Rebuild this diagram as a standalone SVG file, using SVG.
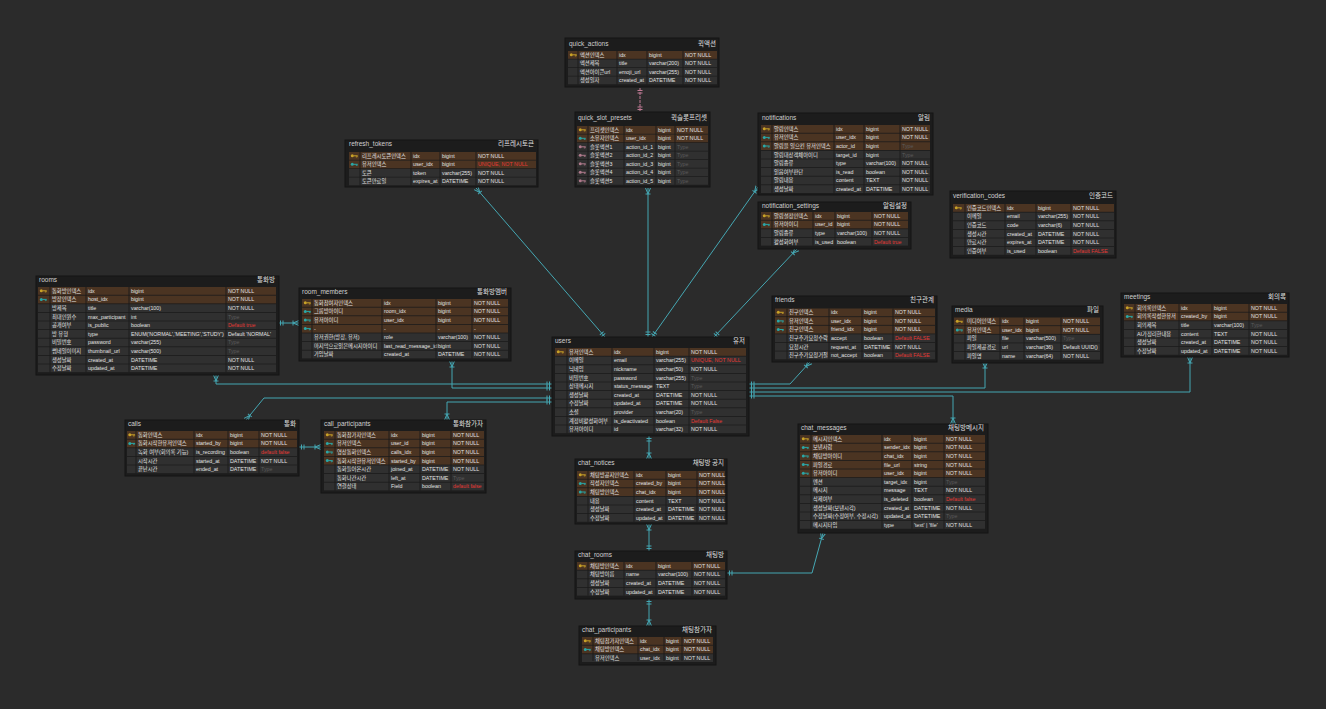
<svg xmlns="http://www.w3.org/2000/svg" xmlns:xlink="http://www.w3.org/1999/xlink" width="1326" height="709" viewBox="0 0 1326 709">
<style>
.tb{fill:#1c1c1c;stroke:#141414;stroke-width:1}
.hn{font-family:"Liberation Sans","Noto Sans CJK KR",sans-serif;font-size:6.5px;fill:#cfcfcf}
.hc{font-family:"Noto Sans CJK KR",sans-serif;font-size:6.5px;fill:#e0e0e0;text-anchor:end}
.k{fill:#4b3422}
.n{fill:#303030}
.s{stroke:#1c1c1c;stroke-width:0.9;fill:none}
.t text{font-family:"Liberation Sans","Noto Sans CJK KR",sans-serif;font-size:5.3px;fill:#e2e2e2}
.t text.g{fill:#5a5a5a}
.t text.r{fill:#e53935}
.ln{fill:none;stroke:#45a7b3;stroke-width:1;marker-start:url(#mo);marker-end:url(#mn)}
.pk{fill:none;stroke:#c07a95;stroke-width:1;stroke-dasharray:3 1;marker-start:url(#po);marker-end:url(#po)}
</style>
<defs>
<g id="kp"><circle cx="1.8" cy="2" r="1.5" fill="#c9a227"/><rect x="3" y="1.5" width="4.2" height="1" fill="#c9a227"/><rect x="5.4" y="2.4" width="0.8" height="1.3" fill="#c9a227"/><rect x="6.6" y="2.4" width="0.6" height="1" fill="#c9a227"/></g>
<g id="kf"><circle cx="1.8" cy="2" r="1.5" fill="#2aa7a7"/><rect x="3" y="1.5" width="4.2" height="1" fill="#2aa7a7"/><rect x="5.4" y="2.4" width="0.8" height="1.3" fill="#2aa7a7"/><rect x="6.6" y="2.4" width="0.6" height="1" fill="#2aa7a7"/></g>
<g id="kx"><circle cx="1.8" cy="2" r="1.5" fill="#b07a8c"/><rect x="3" y="1.5" width="4.2" height="1" fill="#b07a8c"/><rect x="5.4" y="2.4" width="0.8" height="1.3" fill="#b07a8c"/><rect x="6.6" y="2.4" width="0.6" height="1" fill="#b07a8c"/></g>
<marker id="mo" viewBox="0 0 10 10" refX="10" refY="5" markerWidth="10" markerHeight="10" orient="auto-start-reverse" markerUnits="userSpaceOnUse"><path d="M5,2.5V7.5M7.5,2.5V7.5" stroke="#45a7b3" stroke-width="1" fill="none"/></marker>
<marker id="mn" viewBox="0 0 10 10" refX="10" refY="5" markerWidth="10" markerHeight="10" orient="auto" markerUnits="userSpaceOnUse"><path d="M4,5L10,2.5M4,5L10,7.5M4,2.5V7.5" stroke="#45a7b3" stroke-width="1" fill="none"/></marker>
<marker id="po" viewBox="0 0 10 10" refX="10" refY="5" markerWidth="10" markerHeight="10" orient="auto-start-reverse" markerUnits="userSpaceOnUse"><path d="M5,2.5V7.5M7.5,2.5V7.5" stroke="#c07a95" stroke-width="1" fill="none"/></marker>
</defs>
<rect width="1326" height="709" fill="#2b2b2b"/>

<g id="connectors">
<path class="pk" d="M640,88V112"/>
<path class="ln" d="M605,337L476,188"/>
<path class="ln" d="M648,337V188"/>
<path class="ln" d="M652,337L758,187"/>
<path class="ln" d="M714,337L797,249"/>
<path class="ln" d="M749,384H790L810,362"/>
<path class="ln" d="M749,388H985V362"/>
<path class="ln" d="M749,392H1190V357"/>
<path class="ln" d="M749,396H953V424"/>
<path class="ln" d="M552,384H216V375"/>
<path class="ln" d="M552,388H452V361"/>
<path class="ln" d="M552,398H264L246,420"/>
<path class="ln" d="M552,402H447V420"/>
<path class="ln" d="M278,323H299"/>
<path class="ln" d="M299,447H321"/>
<path class="ln" d="M649,436V459"/>
<path class="ln" d="M649,551V524"/>
<path class="ln" d="M649,599V626"/>
<path class="ln" d="M727,573H812L823,533"/>
</g>

<g id="quick_actions">
<rect class="tb" x="565" y="38" width="154" height="49"/>
<text class="hn" x="569" y="46">quick_actions</text><text class="hc" x="716" y="46">퀵액션</text>
<g class="t">
<g transform="translate(0,51)"><rect class="k" x="568" width="149" height="7.8"/><use href="#kp" x="569.5" y="1.8"/><text x="580" y="5.8">액션인덱스</text><text x="619" y="5.8">idx</text><text x="649" y="5.8">bigint</text><text x="685" y="5.8">NOT NULL</text></g>
<g transform="translate(0,59.5)"><rect class="n" x="568" width="149" height="7.8"/><text x="580" y="5.8">액션제목</text><text x="619" y="5.8">title</text><text x="649" y="5.8">varchar(200)</text><text x="685" y="5.8">NOT NULL</text></g>
<g transform="translate(0,68)"><rect class="n" x="568" width="149" height="7.8"/><text x="580" y="5.8">액션아이콘url</text><text x="619" y="5.8">emoji_url</text><text x="649" y="5.8">varchar(255)</text><text x="685" y="5.8">NOT NULL</text></g>
<g transform="translate(0,76.5)"><rect class="n" x="568" width="149" height="7.8"/><text x="580" y="5.8">생성일자</text><text x="619" y="5.8">created_at</text><text x="649" y="5.8">DATETIME</text><text x="685" y="5.8">NOT NULL</text></g>
</g>
<path class="s" d="M578,51V84.3M617,51V84.3M647,51V84.3M683,51V84.3"/>
</g>

<g id="quick_slot_presets">
<rect class="tb" x="575" y="112" width="135" height="75"/>
<text class="hn" x="578" y="120">quick_slot_presets</text><text class="hc" x="707" y="120">퀵슬롯프리셋</text>
<g class="t">
<g transform="translate(0,126)"><rect class="k" x="577" width="131" height="7.8"/><use href="#kp" x="578.5" y="1.8"/><text x="590" y="5.8">프리셋인덱스</text><text x="626" y="5.8">idx</text><text x="658" y="5.8">bigint</text><text x="677" y="5.8">NOT NULL</text></g>
<g transform="translate(0,134.5)"><rect class="k" x="577" width="131" height="7.8"/><use href="#kf" x="578.5" y="1.8"/><text x="590" y="5.8">소유자인덱스</text><text x="626" y="5.8">user_idx</text><text x="658" y="5.8">bigint</text><text x="677" y="5.8">NOT NULL</text></g>
<g transform="translate(0,143)"><rect class="n" x="577" width="131" height="7.8"/><use href="#kx" x="578.5" y="1.8"/><text x="590" y="5.8">슬롯액션1</text><text x="626" y="5.8">action_id_1</text><text x="658" y="5.8">bigint</text><text class="g" x="677" y="5.8">Type</text></g>
<g transform="translate(0,151.5)"><rect class="n" x="577" width="131" height="7.8"/><use href="#kx" x="578.5" y="1.8"/><text x="590" y="5.8">슬롯액션2</text><text x="626" y="5.8">action_id_2</text><text x="658" y="5.8">bigint</text><text class="g" x="677" y="5.8">Type</text></g>
<g transform="translate(0,160)"><rect class="n" x="577" width="131" height="7.8"/><use href="#kx" x="578.5" y="1.8"/><text x="590" y="5.8">슬롯액션3</text><text x="626" y="5.8">action_id_3</text><text x="658" y="5.8">bigint</text><text class="g" x="677" y="5.8">Type</text></g>
<g transform="translate(0,168.5)"><rect class="n" x="577" width="131" height="7.8"/><use href="#kx" x="578.5" y="1.8"/><text x="590" y="5.8">슬롯액션4</text><text x="626" y="5.8">action_id_4</text><text x="658" y="5.8">bigint</text><text class="g" x="677" y="5.8">Type</text></g>
<g transform="translate(0,177)"><rect class="n" x="577" width="131" height="7.8"/><use href="#kx" x="578.5" y="1.8"/><text x="590" y="5.8">슬롯액션5</text><text x="626" y="5.8">action_id_5</text><text x="658" y="5.8">bigint</text><text class="g" x="677" y="5.8">Type</text></g>
</g>
<path class="s" d="M588,126V184.8M624,126V184.8M656,126V184.8M675,126V184.8"/>
</g>

<g id="refresh_tokens">
<rect class="tb" x="345" y="140" width="193" height="47"/>
<text class="hn" x="349" y="146">refresh_tokens</text><text class="hc" x="534" y="146">리프레시토큰</text>
<g class="t">
<g transform="translate(0,152)"><rect class="k" x="349" width="187" height="7.8"/><use href="#kp" x="350.5" y="1.8"/><text x="362" y="5.8">리프레시토큰인덱스</text><text x="413" y="5.8">idx</text><text x="442" y="5.8">bigint</text><text x="478" y="5.8">NOT NULL</text></g>
<g transform="translate(0,160.5)"><rect class="k" x="349" width="187" height="7.8"/><use href="#kf" x="350.5" y="1.8"/><text x="362" y="5.8">유저인덱스</text><text x="413" y="5.8">user_idx</text><text x="442" y="5.8">bigint</text><text class="r" x="478" y="5.8">UNIQUE, NOT NULL</text></g>
<g transform="translate(0,169)"><rect class="n" x="349" width="187" height="7.8"/><text x="362" y="5.8">토큰</text><text x="413" y="5.8">token</text><text x="442" y="5.8">varchar(255)</text><text x="478" y="5.8">NOT NULL</text></g>
<g transform="translate(0,177.5)"><rect class="n" x="349" width="187" height="7.8"/><text x="362" y="5.8">토큰만료일</text><text x="413" y="5.8">expires_at</text><text x="442" y="5.8">DATETIME</text><text x="478" y="5.8">NOT NULL</text></g>
</g>
<path class="s" d="M360,152V185.3M411,152V185.3M440,152V185.3M476,152V185.3"/>
</g>

<g id="notifications">
<rect class="tb" x="758" y="113" width="175" height="82"/>
<text class="hn" x="762" y="120">notifications</text><text class="hc" x="930" y="120">알림</text>
<g class="t">
<g transform="translate(0,125)"><rect class="k" x="761" width="169" height="7.8"/><use href="#kp" x="762.5" y="1.8"/><text x="774" y="5.8">알림인덱스</text><text x="836" y="5.8">idx</text><text x="866" y="5.8">bigint</text><text x="902" y="5.8">NOT NULL</text></g>
<g transform="translate(0,133.6)"><rect class="k" x="761" width="169" height="7.8"/><use href="#kf" x="762.5" y="1.8"/><text x="774" y="5.8">유저인덱스</text><text x="836" y="5.8">user_idx</text><text x="866" y="5.8">bigint</text><text x="902" y="5.8">NOT NULL</text></g>
<g transform="translate(0,142.2)"><rect class="k" x="761" width="169" height="7.8"/><use href="#kf" x="762.5" y="1.8"/><text x="774" y="5.8">알림을 일으킨 유저인덱스</text><text x="836" y="5.8">actor_id</text><text x="866" y="5.8">bigint</text><text class="g" x="902" y="5.8">Type</text></g>
<g transform="translate(0,150.8)"><rect class="n" x="761" width="169" height="7.8"/><text x="774" y="5.8">알림대상객체아이디</text><text x="836" y="5.8">target_id</text><text x="866" y="5.8">bigint</text><text class="g" x="902" y="5.8">Type</text></g>
<g transform="translate(0,159.4)"><rect class="n" x="761" width="169" height="7.8"/><text x="774" y="5.8">알림종류</text><text x="836" y="5.8">type</text><text x="866" y="5.8">varchar(100)</text><text x="902" y="5.8">NOT NULL</text></g>
<g transform="translate(0,168)"><rect class="n" x="761" width="169" height="7.8"/><text x="774" y="5.8">읽음여부판단</text><text x="836" y="5.8">is_read</text><text x="866" y="5.8">boolean</text><text x="902" y="5.8">NOT NULL</text></g>
<g transform="translate(0,176.6)"><rect class="n" x="761" width="169" height="7.8"/><text x="774" y="5.8">알림내용</text><text x="836" y="5.8">content</text><text x="866" y="5.8">TEXT</text><text x="902" y="5.8">NOT NULL</text></g>
<g transform="translate(0,185.2)"><rect class="n" x="761" width="169" height="7.8"/><text x="774" y="5.8">생성날짜</text><text x="836" y="5.8">created_at</text><text x="866" y="5.8">DATETIME</text><text x="902" y="5.8">NOT NULL</text></g>
</g>
<path class="s" d="M772,125V193M834,125V193M864,125V193M900,125V193"/>
</g>

<g id="notification_settings">
<rect class="tb" x="758" y="202" width="153" height="47"/>
<text class="hn" x="762" y="208">notification_settings</text><text class="hc" x="907" y="208">알림설정</text>
<g class="t">
<g transform="translate(0,212)"><rect class="k" x="761" width="147" height="7.8"/><use href="#kp" x="762.5" y="1.8"/><text x="774" y="5.8">알림설정인덱스</text><text x="815" y="5.8">idx</text><text x="837" y="5.8">bigint</text><text x="874" y="5.8">NOT NULL</text></g>
<g transform="translate(0,220.6)"><rect class="k" x="761" width="147" height="7.8"/><use href="#kf" x="762.5" y="1.8"/><text x="774" y="5.8">유저아이디</text><text x="815" y="5.8">user_id</text><text x="837" y="5.8">bigint</text><text x="874" y="5.8">NOT NULL</text></g>
<g transform="translate(0,229.2)"><rect class="n" x="761" width="147" height="7.8"/><text x="774" y="5.8">알림종류</text><text x="815" y="5.8">type</text><text x="837" y="5.8">varchar(100)</text><text x="874" y="5.8">NOT NULL</text></g>
<g transform="translate(0,237.8)"><rect class="n" x="761" width="147" height="7.8"/><text x="774" y="5.8">활성화여부</text><text x="815" y="5.8">is_used</text><text x="837" y="5.8">boolean</text><text class="r" x="874" y="5.8">Default true</text></g>
</g>
<path class="s" d="M772,212V245.6M813,212V245.6M835,212V245.6M872,212V245.6"/>
</g>

<g id="verification_codes">
<rect class="tb" x="950" y="191" width="166" height="67"/>
<text class="hn" x="953" y="198">verification_codes</text><text class="hc" x="1113" y="198">인증코드</text>
<g class="t">
<g transform="translate(0,204)"><rect class="k" x="953" width="161" height="7.8"/><use href="#kp" x="954.5" y="1.8"/><text x="967" y="5.8">인증코드인덱스</text><text x="1007" y="5.8">idx</text><text x="1038" y="5.8">bigint</text><text x="1073" y="5.8">NOT NULL</text></g>
<g transform="translate(0,212.6)"><rect class="n" x="953" width="161" height="7.8"/><text x="967" y="5.8">이메일</text><text x="1007" y="5.8">email</text><text x="1038" y="5.8">varchar(255)</text><text x="1073" y="5.8">NOT NULL</text></g>
<g transform="translate(0,221.2)"><rect class="n" x="953" width="161" height="7.8"/><text x="967" y="5.8">인증코드</text><text x="1007" y="5.8">code</text><text x="1038" y="5.8">varchar(6)</text><text x="1073" y="5.8">NOT NULL</text></g>
<g transform="translate(0,229.8)"><rect class="n" x="953" width="161" height="7.8"/><text x="967" y="5.8">생성시간</text><text x="1007" y="5.8">created_at</text><text x="1038" y="5.8">DATETIME</text><text x="1073" y="5.8">NOT NULL</text></g>
<g transform="translate(0,238.4)"><rect class="n" x="953" width="161" height="7.8"/><text x="967" y="5.8">만료시간</text><text x="1007" y="5.8">expires_at</text><text x="1038" y="5.8">DATETIME</text><text x="1073" y="5.8">NOT NULL</text></g>
<g transform="translate(0,247)"><rect class="n" x="953" width="161" height="7.8"/><text x="967" y="5.8">인증여부</text><text x="1007" y="5.8">is_used</text><text x="1038" y="5.8">boolean</text><text class="r" x="1073" y="5.8">Default FALSE</text></g>
</g>
<path class="s" d="M965,204V254.8M1005,204V254.8M1036,204V254.8M1071,204V254.8"/>
</g>

<g id="rooms">
<rect class="tb" x="36" y="276" width="243" height="99"/>
<text class="hn" x="39" y="282">rooms</text><text class="hc" x="275" y="282">통화방</text>
<g class="t">
<g transform="translate(0,287)"><rect class="k" x="38" width="238" height="7.8"/><use href="#kp" x="39.5" y="1.8"/><text x="52" y="5.8">통화방인덱스</text><text x="88" y="5.8">idx</text><text x="131" y="5.8">bigint</text><text x="228" y="5.8">NOT NULL</text></g>
<g transform="translate(0,295.6)"><rect class="k" x="38" width="238" height="7.8"/><use href="#kf" x="39.5" y="1.8"/><text x="52" y="5.8">방장인덱스</text><text x="88" y="5.8">host_idx</text><text x="131" y="5.8">bigint</text><text x="228" y="5.8">NOT NULL</text></g>
<g transform="translate(0,304.2)"><rect class="n" x="38" width="238" height="7.8"/><text x="52" y="5.8">방제목</text><text x="88" y="5.8">title</text><text x="131" y="5.8">varchar(100)</text><text x="228" y="5.8">NOT NULL</text></g>
<g transform="translate(0,312.8)"><rect class="n" x="38" width="238" height="7.8"/><text x="52" y="5.8">최대인원수</text><text x="88" y="5.8">max_participant</text><text x="131" y="5.8">int</text><text class="g" x="228" y="5.8">Type</text></g>
<g transform="translate(0,321.4)"><rect class="n" x="38" width="238" height="7.8"/><text x="52" y="5.8">공개여부</text><text x="88" y="5.8">is_public</text><text x="131" y="5.8">boolean</text><text class="r" x="228" y="5.8">Default true</text></g>
<g transform="translate(0,330)"><rect class="n" x="38" width="238" height="7.8"/><text x="52" y="5.8">방 유형</text><text x="88" y="5.8">type</text><text x="131" y="5.8">ENUM('NORMAL','MEETING','STUDY')</text><text x="228" y="5.8">Default 'NORMAL'</text></g>
<g transform="translate(0,338.6)"><rect class="n" x="38" width="238" height="7.8"/><text x="52" y="5.8">비밀번호</text><text x="88" y="5.8">password</text><text x="131" y="5.8">varchar(255)</text><text class="g" x="228" y="5.8">Type</text></g>
<g transform="translate(0,347.2)"><rect class="n" x="38" width="238" height="7.8"/><text x="52" y="5.8">썸네일이미지</text><text x="88" y="5.8">thumbnail_url</text><text x="131" y="5.8">varchar(500)</text><text class="g" x="228" y="5.8">Type</text></g>
<g transform="translate(0,355.8)"><rect class="n" x="38" width="238" height="7.8"/><text x="52" y="5.8">생성날짜</text><text x="88" y="5.8">created_at</text><text x="131" y="5.8">DATETIME</text><text x="228" y="5.8">NOT NULL</text></g>
<g transform="translate(0,364.4)"><rect class="n" x="38" width="238" height="7.8"/><text x="52" y="5.8">수정날짜</text><text x="88" y="5.8">updated_at</text><text x="131" y="5.8">DATETIME</text><text x="228" y="5.8">NOT NULL</text></g>
</g>
<path class="s" d="M50,287V372.2M86,287V372.2M129,287V372.2M226,287V372.2"/>
</g>

<g id="room_members">
<rect class="tb" x="299" y="288" width="212" height="73"/>
<text class="hn" x="302" y="294">room_members</text><text class="hc" x="507" y="294">통화방멤버</text>
<g class="t">
<g transform="translate(0,299)"><rect class="k" x="302" width="206" height="7.8"/><use href="#kp" x="303.5" y="1.8"/><text x="314" y="5.8">통화참여자인덱스</text><text x="384" y="5.8">idx</text><text x="438" y="5.8">bigint</text><text x="474" y="5.8">NOT NULL</text></g>
<g transform="translate(0,307.6)"><rect class="k" x="302" width="206" height="7.8"/><use href="#kf" x="303.5" y="1.8"/><text x="314" y="5.8">그룹방아이디</text><text x="384" y="5.8">room_idx</text><text x="438" y="5.8">bigint</text><text x="474" y="5.8">NOT NULL</text></g>
<g transform="translate(0,316.2)"><rect class="k" x="302" width="206" height="7.8"/><use href="#kf" x="303.5" y="1.8"/><text x="314" y="5.8">유저아이디</text><text x="384" y="5.8">user_idx</text><text x="438" y="5.8">bigint</text><text x="474" y="5.8">NOT NULL</text></g>
<g transform="translate(0,324.8)"><rect class="k" x="302" width="206" height="7.8"/><use href="#kf" x="303.5" y="1.8"/><text x="314" y="5.8">-</text><text x="384" y="5.8">-</text><text x="438" y="5.8">-</text><text x="474" y="5.8">-</text></g>
<g transform="translate(0,333.4)"><rect class="n" x="302" width="206" height="7.8"/><text x="314" y="5.8">유저권한(방장, 유저)</text><text x="384" y="5.8">role</text><text x="438" y="5.8">varchar(100)</text><text x="474" y="5.8">NOT NULL</text></g>
<g transform="translate(0,342)"><rect class="n" x="302" width="206" height="7.8"/><text x="314" y="5.8">마지막으로읽은메시지아이디</text><text x="384" y="5.8">last_read_message_id</text><text x="438" y="5.8">bigint</text><text x="474" y="5.8">NOT NULL</text></g>
<g transform="translate(0,350.6)"><rect class="n" x="302" width="206" height="7.8"/><text x="314" y="5.8">가입날짜</text><text x="384" y="5.8">created_at</text><text x="438" y="5.8">DATETIME</text><text x="474" y="5.8">NOT NULL</text></g>
</g>
<path class="s" d="M312,299V358.4M382,299V358.4M436,299V358.4M472,299V358.4"/>
</g>

<g id="users">
<rect class="tb" x="552" y="337" width="197" height="99"/>
<text class="hn" x="555" y="343">users</text><text class="hc" x="745" y="343">유저</text>
<g class="t">
<g transform="translate(0,348)"><rect class="k" x="555" width="191" height="7.8"/><use href="#kp" x="556.5" y="1.8"/><text x="569" y="5.8">유저인덱스</text><text x="614" y="5.8">idx</text><text x="656" y="5.8">bigint</text><text x="691" y="5.8">NOT NULL</text></g>
<g transform="translate(0,356.6)"><rect class="n" x="555" width="191" height="7.8"/><text x="569" y="5.8">이메일</text><text x="614" y="5.8">email</text><text x="656" y="5.8">varchar(255)</text><text class="r" x="691" y="5.8">UNIQUE, NOT NULL</text></g>
<g transform="translate(0,365.2)"><rect class="n" x="555" width="191" height="7.8"/><text x="569" y="5.8">닉네임</text><text x="614" y="5.8">nickname</text><text x="656" y="5.8">varchar(50)</text><text x="691" y="5.8">NOT NULL</text></g>
<g transform="translate(0,373.8)"><rect class="n" x="555" width="191" height="7.8"/><text x="569" y="5.8">비밀번호</text><text x="614" y="5.8">password</text><text x="656" y="5.8">varchar(255)</text><text class="g" x="691" y="5.8">Type</text></g>
<g transform="translate(0,382.4)"><rect class="n" x="555" width="191" height="7.8"/><text x="569" y="5.8">상태메시지</text><text x="614" y="5.8">status_message</text><text x="656" y="5.8">TEXT</text><text class="g" x="691" y="5.8">Type</text></g>
<g transform="translate(0,391)"><rect class="n" x="555" width="191" height="7.8"/><text x="569" y="5.8">생성날짜</text><text x="614" y="5.8">created_at</text><text x="656" y="5.8">DATETIME</text><text x="691" y="5.8">NOT NULL</text></g>
<g transform="translate(0,399.6)"><rect class="n" x="555" width="191" height="7.8"/><text x="569" y="5.8">수정날짜</text><text x="614" y="5.8">updated_at</text><text x="656" y="5.8">DATETIME</text><text x="691" y="5.8">NOT NULL</text></g>
<g transform="translate(0,408.2)"><rect class="n" x="555" width="191" height="7.8"/><text x="569" y="5.8">소셜</text><text x="614" y="5.8">provider</text><text x="656" y="5.8">varchar(20)</text><text class="g" x="691" y="5.8">Type</text></g>
<g transform="translate(0,416.8)"><rect class="n" x="555" width="191" height="7.8"/><text x="569" y="5.8">계정비활성화여부</text><text x="614" y="5.8">is_deactivated</text><text x="656" y="5.8">boolean</text><text class="r" x="691" y="5.8">Default False</text></g>
<g transform="translate(0,425.4)"><rect class="n" x="555" width="191" height="7.8"/><text x="569" y="5.8">유저아이디</text><text x="614" y="5.8">id</text><text x="656" y="5.8">varchar(32)</text><text x="691" y="5.8">NOT NULL</text></g>
</g>
<path class="s" d="M567,348V433.2M612,348V433.2M654,348V433.2M689,348V433.2"/>
</g>

<g id="friends">
<rect class="tb" x="772" y="296" width="165" height="66"/>
<text class="hn" x="775" y="302">friends</text><text class="hc" x="934" y="302">친구관계</text>
<g class="t">
<g transform="translate(0,308.5)"><rect class="k" x="775" width="160" height="7.8"/><use href="#kp" x="776.5" y="1.8"/><text x="789" y="5.8">친구인덱스</text><text x="831" y="5.8">idx</text><text x="864" y="5.8">bigint</text><text x="895" y="5.8">NOT NULL</text></g>
<g transform="translate(0,317.1)"><rect class="k" x="775" width="160" height="7.8"/><use href="#kf" x="776.5" y="1.8"/><text x="789" y="5.8">유저인덱스</text><text x="831" y="5.8">user_idx</text><text x="864" y="5.8">bigint</text><text x="895" y="5.8">NOT NULL</text></g>
<g transform="translate(0,325.7)"><rect class="k" x="775" width="160" height="7.8"/><use href="#kf" x="776.5" y="1.8"/><text x="789" y="5.8">친구인덱스</text><text x="831" y="5.8">friend_idx</text><text x="864" y="5.8">bigint</text><text x="895" y="5.8">NOT NULL</text></g>
<g transform="translate(0,334.3)"><rect class="n" x="775" width="160" height="7.8"/><text x="789" y="5.8">친구추가요청수락</text><text x="831" y="5.8">accept</text><text x="864" y="5.8">boolean</text><text class="r" x="895" y="5.8">Default FALSE</text></g>
<g transform="translate(0,342.9)"><rect class="n" x="775" width="160" height="7.8"/><text x="789" y="5.8">요청시간</text><text x="831" y="5.8">request_at</text><text x="864" y="5.8">DATETIME</text><text x="895" y="5.8">NOT NULL</text></g>
<g transform="translate(0,351.5)"><rect class="n" x="775" width="160" height="7.8"/><text x="789" y="5.8">친구추가요청거절</text><text x="831" y="5.8">not_accept</text><text x="864" y="5.8">boolean</text><text class="r" x="895" y="5.8">Default FALSE</text></g>
</g>
<path class="s" d="M787,308.5V359.3M829,308.5V359.3M862,308.5V359.3M893,308.5V359.3"/>
</g>

<g id="media">
<rect class="tb" x="952" y="306" width="151" height="57"/>
<text class="hn" x="955" y="312">media</text><text class="hc" x="1099" y="312">파일</text>
<g class="t">
<g transform="translate(0,317.5)"><rect class="k" x="954" width="146" height="7.8"/><use href="#kp" x="955.5" y="1.8"/><text x="967" y="5.8">미디어인덱스</text><text x="1002" y="5.8">idx</text><text x="1026" y="5.8">bigint</text><text x="1063" y="5.8">NOT NULL</text></g>
<g transform="translate(0,326.1)"><rect class="k" x="954" width="146" height="7.8"/><use href="#kf" x="955.5" y="1.8"/><text x="967" y="5.8">유저인덱스</text><text x="1002" y="5.8">user_idx</text><text x="1026" y="5.8">bigint</text><text x="1063" y="5.8">NOT NULL</text></g>
<g transform="translate(0,334.7)"><rect class="n" x="954" width="146" height="7.8"/><text x="967" y="5.8">파일</text><text x="1002" y="5.8">file</text><text x="1026" y="5.8">varchar(500)</text><text class="g" x="1063" y="5.8">Type</text></g>
<g transform="translate(0,343.3)"><rect class="n" x="954" width="146" height="7.8"/><text x="967" y="5.8">파일제공경로</text><text x="1002" y="5.8">url</text><text x="1026" y="5.8">varchar(36)</text><text x="1063" y="5.8">Default UUID()</text></g>
<g transform="translate(0,351.9)"><rect class="n" x="954" width="146" height="7.8"/><text x="967" y="5.8">파일명</text><text x="1002" y="5.8">name</text><text x="1026" y="5.8">varchar(64)</text><text x="1063" y="5.8">NOT NULL</text></g>
</g>
<path class="s" d="M965,317.5V359.7M1000,317.5V359.7M1024,317.5V359.7M1061,317.5V359.7"/>
</g>

<g id="meetings">
<rect class="tb" x="1121" y="293" width="168" height="64"/>
<text class="hn" x="1124" y="299">meetings</text><text class="hc" x="1286" y="299">회의록</text>
<g class="t">
<g transform="translate(0,304)"><rect class="k" x="1124" width="163" height="7.8"/><use href="#kp" x="1125.5" y="1.8"/><text x="1137" y="5.8">회의록인덱스</text><text x="1181" y="5.8">idx</text><text x="1214" y="5.8">bigint</text><text x="1251" y="5.8">NOT NULL</text></g>
<g transform="translate(0,312.6)"><rect class="k" x="1124" width="163" height="7.8"/><use href="#kf" x="1125.5" y="1.8"/><text x="1137" y="5.8">회의록작성한유저</text><text x="1181" y="5.8">created_by</text><text x="1214" y="5.8">bigint</text><text x="1251" y="5.8">NOT NULL</text></g>
<g transform="translate(0,321.2)"><rect class="n" x="1124" width="163" height="7.8"/><text x="1137" y="5.8">회의제목</text><text x="1181" y="5.8">title</text><text x="1214" y="5.8">varchar(100)</text><text class="g" x="1251" y="5.8">Type</text></g>
<g transform="translate(0,329.8)"><rect class="n" x="1124" width="163" height="7.8"/><text x="1137" y="5.8">AI가정리한내용</text><text x="1181" y="5.8">content</text><text x="1214" y="5.8">TEXT</text><text x="1251" y="5.8">NOT NULL</text></g>
<g transform="translate(0,338.4)"><rect class="n" x="1124" width="163" height="7.8"/><text x="1137" y="5.8">생성날짜</text><text x="1181" y="5.8">created_at</text><text x="1214" y="5.8">DATETIME</text><text x="1251" y="5.8">NOT NULL</text></g>
<g transform="translate(0,347)"><rect class="n" x="1124" width="163" height="7.8"/><text x="1137" y="5.8">수정날짜</text><text x="1181" y="5.8">updated_at</text><text x="1214" y="5.8">DATETIME</text><text x="1251" y="5.8">NOT NULL</text></g>
</g>
<path class="s" d="M1135,304V354.8M1179,304V354.8M1212,304V354.8M1249,304V354.8"/>
</g>

<g id="calls">
<rect class="tb" x="125" y="420" width="174" height="56"/>
<text class="hn" x="128" y="426">calls</text><text class="hc" x="296" y="426">통화</text>
<g class="t">
<g transform="translate(0,431)"><rect class="k" x="127" width="170" height="7.8"/><use href="#kp" x="128" y="1.8"/><text x="138" y="5.8">통화인덱스</text><text x="196" y="5.8">idx</text><text x="230" y="5.8">bigint</text><text x="261" y="5.8">NOT NULL</text></g>
<g transform="translate(0,439.6)"><rect class="k" x="127" width="170" height="7.8"/><use href="#kf" x="128" y="1.8"/><text x="138" y="5.8">통화시작한유저인덱스</text><text x="196" y="5.8">started_by</text><text x="230" y="5.8">bigint</text><text x="261" y="5.8">NOT NULL</text></g>
<g transform="translate(0,448.2)"><rect class="n" x="127" width="170" height="7.8"/><text x="138" y="5.8">녹화 여부(회의록 기능)</text><text x="196" y="5.8">is_recording</text><text x="230" y="5.8">boolean</text><text class="r" x="261" y="5.8">default false</text></g>
<g transform="translate(0,456.8)"><rect class="n" x="127" width="170" height="7.8"/><text x="138" y="5.8">시작시간</text><text x="196" y="5.8">started_at</text><text x="230" y="5.8">DATETIME</text><text x="261" y="5.8">NOT NULL</text></g>
<g transform="translate(0,465.4)"><rect class="n" x="127" width="170" height="7.8"/><text x="138" y="5.8">끝난시간</text><text x="196" y="5.8">ended_at</text><text x="230" y="5.8">DATETIME</text><text class="g" x="261" y="5.8">Type</text></g>
</g>
<path class="s" d="M136,431V473.2M194,431V473.2M228,431V473.2M259,431V473.2"/>
</g>

<g id="call_participants">
<rect class="tb" x="321" y="420" width="165" height="73"/>
<text class="hn" x="324" y="426">call_participants</text><text class="hc" x="483" y="426">통화참가자</text>
<g class="t">
<g transform="translate(0,431)"><rect class="k" x="324" width="160" height="7.8"/><use href="#kp" x="325.5" y="1.8"/><text x="337" y="5.8">통화참가자인덱스</text><text x="391" y="5.8">idx</text><text x="422" y="5.8">bigint</text><text x="453" y="5.8">NOT NULL</text></g>
<g transform="translate(0,439.6)"><rect class="k" x="324" width="160" height="7.8"/><use href="#kf" x="325.5" y="1.8"/><text x="337" y="5.8">유저인덱스</text><text x="391" y="5.8">user_id</text><text x="422" y="5.8">bigint</text><text x="453" y="5.8">NOT NULL</text></g>
<g transform="translate(0,448.2)"><rect class="k" x="324" width="160" height="7.8"/><use href="#kf" x="325.5" y="1.8"/><text x="337" y="5.8">영상통화인덱스</text><text x="391" y="5.8">calls_idx</text><text x="422" y="5.8">bigint</text><text x="453" y="5.8">NOT NULL</text></g>
<g transform="translate(0,456.8)"><rect class="k" x="324" width="160" height="7.8"/><use href="#kf" x="325.5" y="1.8"/><text x="337" y="5.8">통화시작한유저인덱스</text><text x="391" y="5.8">started_by</text><text x="422" y="5.8">bigint</text><text x="453" y="5.8">NOT NULL</text></g>
<g transform="translate(0,465.4)"><rect class="n" x="324" width="160" height="7.8"/><text x="337" y="5.8">통화들어온시간</text><text x="391" y="5.8">joined_at</text><text x="422" y="5.8">DATETIME</text><text x="453" y="5.8">NOT NULL</text></g>
<g transform="translate(0,474)"><rect class="n" x="324" width="160" height="7.8"/><text x="337" y="5.8">통화나간시간</text><text x="391" y="5.8">left_at</text><text x="422" y="5.8">DATETIME</text><text class="g" x="453" y="5.8">Type</text></g>
<g transform="translate(0,482.6)"><rect class="n" x="324" width="160" height="7.8"/><text x="337" y="5.8">연결상태</text><text x="391" y="5.8">Field</text><text x="422" y="5.8">boolean</text><text class="r" x="453" y="5.8">default false</text></g>
</g>
<path class="s" d="M335,431V490.4M389,431V490.4M420,431V490.4M451,431V490.4"/>
</g>

<g id="chat_messages">
<rect class="tb" x="798" y="424" width="190" height="109"/>
<text class="hn" x="801" y="430">chat_messages</text><text class="hc" x="984" y="430">채팅방메시지</text>
<g class="t">
<g transform="translate(0,435)"><rect class="k" x="800" width="185" height="7.8"/><use href="#kp" x="801.5" y="1.8"/><text x="813" y="5.8">메시지인덱스</text><text x="884" y="5.8">idx</text><text x="914" y="5.8">bigint</text><text x="946" y="5.8">NOT NULL</text></g>
<g transform="translate(0,443.6)"><rect class="k" x="800" width="185" height="7.8"/><use href="#kf" x="801.5" y="1.8"/><text x="813" y="5.8">보낸사람</text><text x="884" y="5.8">sender_idx</text><text x="914" y="5.8">bigint</text><text x="946" y="5.8">NOT NULL</text></g>
<g transform="translate(0,452.2)"><rect class="k" x="800" width="185" height="7.8"/><use href="#kf" x="801.5" y="1.8"/><text x="813" y="5.8">채팅방아이디</text><text x="884" y="5.8">chat_idx</text><text x="914" y="5.8">bigint</text><text x="946" y="5.8">NOT NULL</text></g>
<g transform="translate(0,460.8)"><rect class="k" x="800" width="185" height="7.8"/><use href="#kf" x="801.5" y="1.8"/><text x="813" y="5.8">파일경로</text><text x="884" y="5.8">file_url</text><text x="914" y="5.8">string</text><text x="946" y="5.8">NOT NULL</text></g>
<g transform="translate(0,469.4)"><rect class="k" x="800" width="185" height="7.8"/><use href="#kf" x="801.5" y="1.8"/><text x="813" y="5.8">유저아이디</text><text x="884" y="5.8">user_idx</text><text x="914" y="5.8">bigint</text><text x="946" y="5.8">NOT NULL</text></g>
<g transform="translate(0,478)"><rect class="n" x="800" width="185" height="7.8"/><text x="813" y="5.8">멘션</text><text x="884" y="5.8">target_idx</text><text x="914" y="5.8">bigint</text><text class="g" x="946" y="5.8">Type</text></g>
<g transform="translate(0,486.6)"><rect class="n" x="800" width="185" height="7.8"/><text x="813" y="5.8">메시지</text><text x="884" y="5.8">message</text><text x="914" y="5.8">TEXT</text><text x="946" y="5.8">NOT NULL</text></g>
<g transform="translate(0,495.2)"><rect class="n" x="800" width="185" height="7.8"/><text x="813" y="5.8">삭제여부</text><text x="884" y="5.8">is_deleted</text><text x="914" y="5.8">boolean</text><text class="r" x="946" y="5.8">Default false</text></g>
<g transform="translate(0,503.8)"><rect class="n" x="800" width="185" height="7.8"/><text x="813" y="5.8">생성날짜(보낸시각)</text><text x="884" y="5.8">created_at</text><text x="914" y="5.8">DATETIME</text><text x="946" y="5.8">NOT NULL</text></g>
<g transform="translate(0,512.4)"><rect class="n" x="800" width="185" height="7.8"/><text x="813" y="5.8">수정날짜(수정여부, 수정시각)</text><text x="884" y="5.8">updated_at</text><text x="914" y="5.8">DATETIME</text><text class="g" x="946" y="5.8">Type</text></g>
<g transform="translate(0,521)"><rect class="n" x="800" width="185" height="7.8"/><text x="813" y="5.8">메시지타입</text><text x="884" y="5.8">type</text><text x="914" y="5.8">'text' | 'file'</text><text x="946" y="5.8">NOT NULL</text></g>
</g>
<path class="s" d="M811,435V528.8M882,435V528.8M912,435V528.8M944,435V528.8"/>
</g>

<g id="chat_notices">
<rect class="tb" x="575" y="459" width="152" height="65"/>
<text class="hn" x="578" y="465">chat_notices</text><text class="hc" x="724" y="465">채팅방 공지</text>
<g class="t">
<g transform="translate(0,471)"><rect class="k" x="577" width="148" height="7.8"/><use href="#kp" x="578.5" y="1.8"/><text x="590" y="5.8">채팅방공지인덱스</text><text x="636" y="5.8">idx</text><text x="668" y="5.8">bigint</text><text x="699" y="5.8">NOT NULL</text></g>
<g transform="translate(0,479.6)"><rect class="k" x="577" width="148" height="7.8"/><use href="#kf" x="578.5" y="1.8"/><text x="590" y="5.8">작성자인덱스</text><text x="636" y="5.8">created_by</text><text x="668" y="5.8">bigint</text><text x="699" y="5.8">NOT NULL</text></g>
<g transform="translate(0,488.2)"><rect class="k" x="577" width="148" height="7.8"/><use href="#kf" x="578.5" y="1.8"/><text x="590" y="5.8">채팅방인덱스</text><text x="636" y="5.8">chat_idx</text><text x="668" y="5.8">bigint</text><text x="699" y="5.8">NOT NULL</text></g>
<g transform="translate(0,496.8)"><rect class="n" x="577" width="148" height="7.8"/><text x="590" y="5.8">내용</text><text x="636" y="5.8">content</text><text x="668" y="5.8">TEXT</text><text x="699" y="5.8">NOT NULL</text></g>
<g transform="translate(0,505.4)"><rect class="n" x="577" width="148" height="7.8"/><text x="590" y="5.8">생성날짜</text><text x="636" y="5.8">created_at</text><text x="668" y="5.8">DATETIME</text><text x="699" y="5.8">NOT NULL</text></g>
<g transform="translate(0,514)"><rect class="n" x="577" width="148" height="7.8"/><text x="590" y="5.8">수정날짜</text><text x="636" y="5.8">updated_at</text><text x="668" y="5.8">DATETIME</text><text x="699" y="5.8">NOT NULL</text></g>
</g>
<path class="s" d="M588,471V521.8M634,471V521.8M666,471V521.8M697,471V521.8"/>
</g>

<g id="chat_rooms">
<rect class="tb" x="575" y="551" width="152" height="48"/>
<text class="hn" x="578" y="557">chat_rooms</text><text class="hc" x="724" y="557">채팅방</text>
<g class="t">
<g transform="translate(0,562)"><rect class="k" x="577" width="148" height="7.8"/><use href="#kp" x="578.5" y="1.8"/><text x="590" y="5.8">채팅방인덱스</text><text x="626" y="5.8">idx</text><text x="658" y="5.8">bigint</text><text x="694" y="5.8">NOT NULL</text></g>
<g transform="translate(0,570.6)"><rect class="n" x="577" width="148" height="7.8"/><text x="590" y="5.8">채팅방이름</text><text x="626" y="5.8">name</text><text x="658" y="5.8">varchar(100)</text><text x="694" y="5.8">NOT NULL</text></g>
<g transform="translate(0,579.2)"><rect class="n" x="577" width="148" height="7.8"/><text x="590" y="5.8">생성날짜</text><text x="626" y="5.8">created_at</text><text x="658" y="5.8">DATETIME</text><text x="694" y="5.8">NOT NULL</text></g>
<g transform="translate(0,587.8)"><rect class="n" x="577" width="148" height="7.8"/><text x="590" y="5.8">수정날짜</text><text x="626" y="5.8">updated_at</text><text x="658" y="5.8">DATETIME</text><text x="694" y="5.8">NOT NULL</text></g>
</g>
<path class="s" d="M588,562V595.6M624,562V595.6M656,562V595.6M692,562V595.6"/>
</g>

<g id="chat_participants">
<rect class="tb" x="579" y="626" width="137" height="39"/>
<text class="hn" x="582" y="632">chat_participants</text><text class="hc" x="712" y="632">채팅참가자</text>
<g class="t">
<g transform="translate(0,637)"><rect class="k" x="582" width="131" height="7.8"/><use href="#kp" x="583.5" y="1.8"/><text x="595" y="5.8">채팅참가자인덱스</text><text x="640" y="5.8">idx</text><text x="666" y="5.8">bigint</text><text x="684" y="5.8">NOT NULL</text></g>
<g transform="translate(0,645.6)"><rect class="k" x="582" width="131" height="7.8"/><use href="#kf" x="583.5" y="1.8"/><text x="595" y="5.8">채팅방인덱스</text><text x="640" y="5.8">chat_idx</text><text x="666" y="5.8">bigint</text><text x="684" y="5.8">NOT NULL</text></g>
<g transform="translate(0,654.2)"><rect class="n" x="582" width="131" height="7.8"/><text x="595" y="5.8">유저인덱스</text><text x="640" y="5.8">user_idx</text><text x="666" y="5.8">bigint</text><text x="684" y="5.8">NOT NULL</text></g>
</g>
<path class="s" d="M593,637V661M638,637V661M664,637V661M682,637V661"/>
</g>
</svg>
